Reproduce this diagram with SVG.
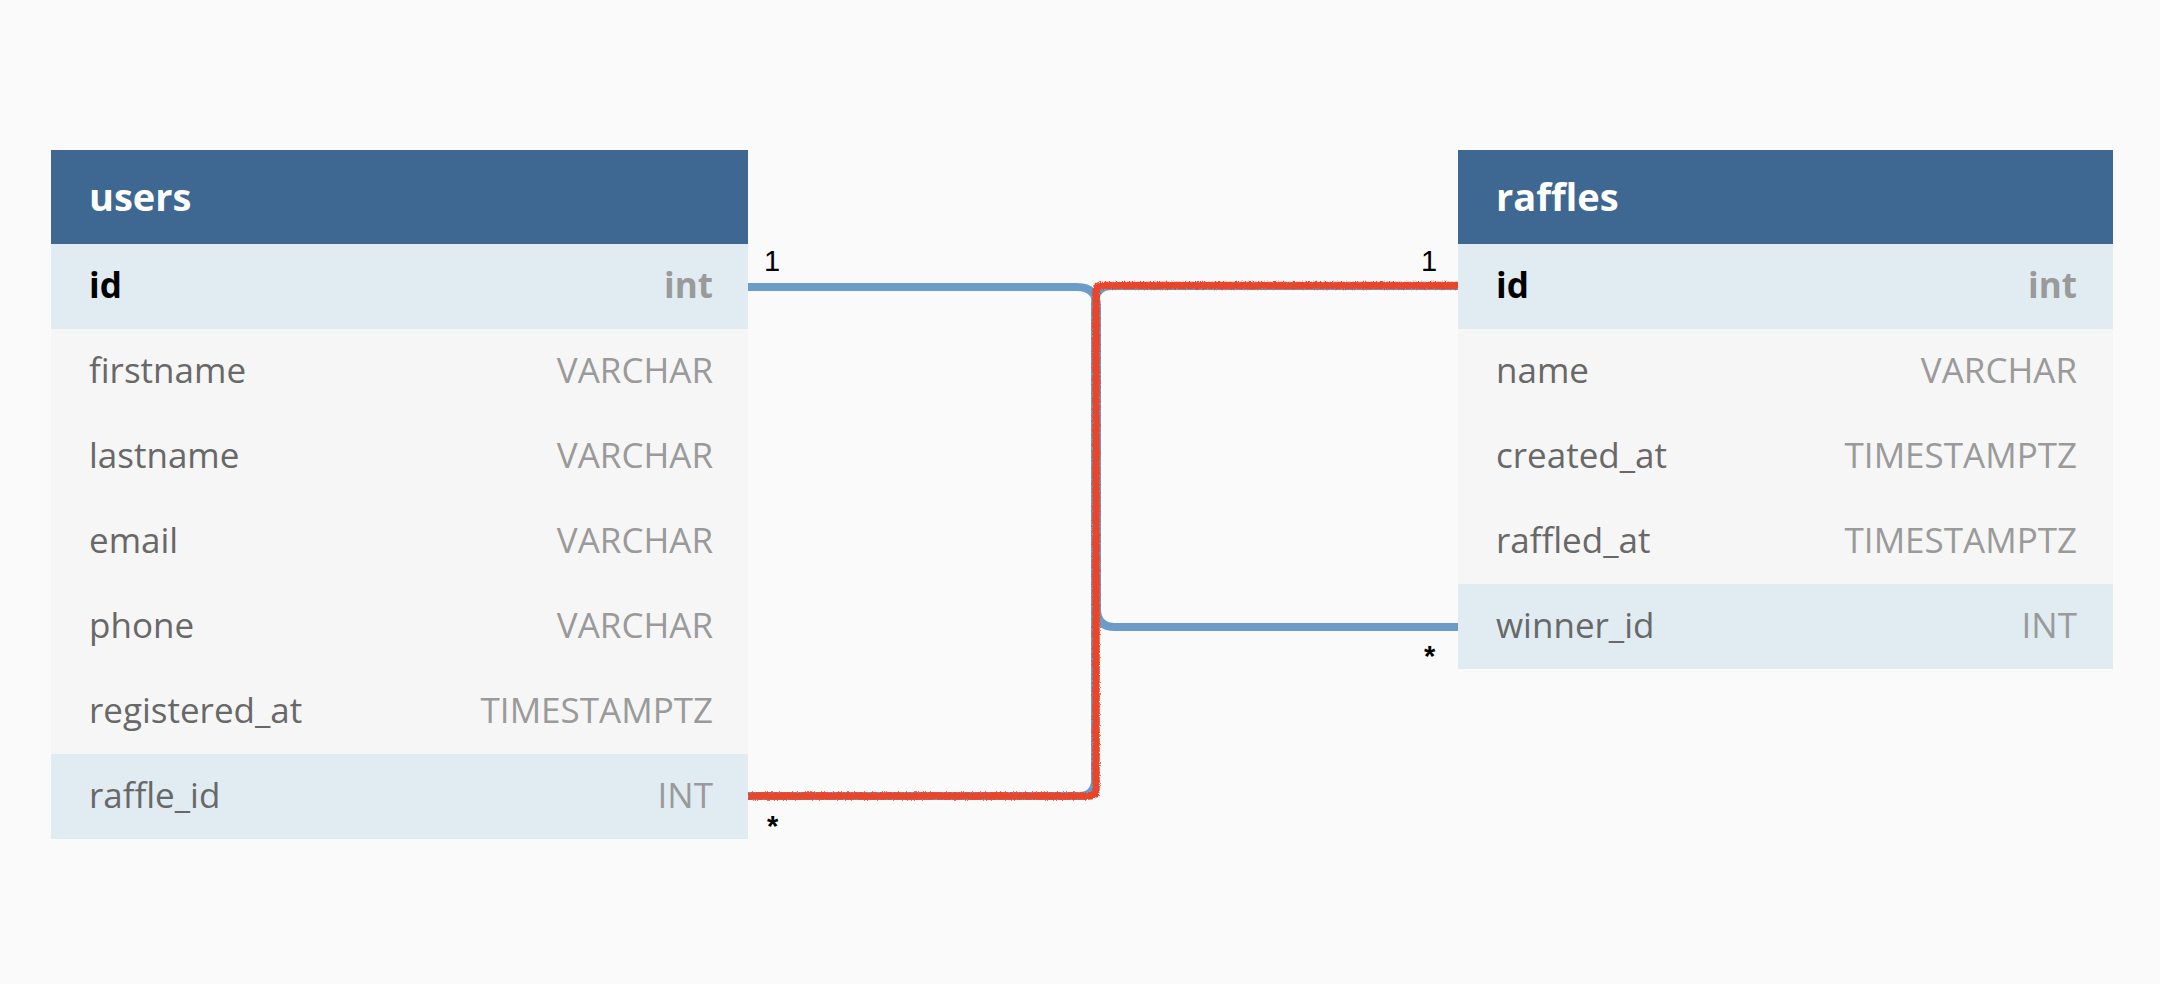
<svg xmlns="http://www.w3.org/2000/svg" width="2160" height="984" viewBox="0 0 2160 984">
  <style>
    .bg { fill: #fafafa; }
    .hdr { fill: #3e6891; }
    .row { fill: #f6f6f6; }
    .rowk { fill: #e1ebf2; }
    .title { font-family: "Open Sans", "Liberation Sans", sans-serif; font-weight: 700; font-size: 38px; fill: #ffffff; }
    .fname { font-family: "Open Sans", "Liberation Sans", sans-serif; font-size: 35px; fill: #686868; }
    .fpk { font-family: "Open Sans", "Liberation Sans", sans-serif; font-size: 35px; font-weight: 700; fill: #000000; }
    .ftype { font-family: "Open Sans", "Liberation Sans", sans-serif; font-size: 35px; fill: #9a9a9a; text-anchor: end; }
    .ftypepk { font-family: "Open Sans", "Liberation Sans", sans-serif; font-size: 35px; font-weight: 700; fill: #9a9a9a; text-anchor: end; }
    .card { font-family: "Liberation Sans", Arial, sans-serif; font-size: 29px; fill: #000000; }
    .star { font-weight: 700; }
    .link { fill: none; stroke: #6b9cc9; stroke-width: 8; }
    .hl { fill: none; stroke: #e8442a; stroke-width: 7.5; stroke-linejoin: round; filter: url(#rough); }
  </style>
  <defs>
    <filter id="rough" x="-5%" y="-5%" width="110%" height="110%">
      <feTurbulence type="fractalNoise" baseFrequency="1.1" numOctaves="2" seed="3" result="n"/>
      <feDisplacementMap in="SourceGraphic" in2="n" scale="4.5" xChannelSelector="R" yChannelSelector="G"/>
    </filter>
  </defs>
  <rect class="bg" x="0" y="0" width="2160" height="984"/>

  <g id="connectors">
    <path id="users-id-to-raffles-winner_id" class="link" d="M748,287 H1077 Q1097,287 1097,307 V609 Q1097,627 1115,627 H1458"/>
    <path id="raffles-id-to-users-raffle_id" class="link" d="M1458,286 H1112 Q1095,286 1095,303 V780 Q1095,796 1079,796 H748"/>
    <path id="raffles-id-to-users-raffle_id-highlight" class="hl" d="M1458,285.5 H1102 Q1096,285.5 1096,292 V789 Q1096,796 1089,796 H748"/>
  </g>

  <g id="users">
    <rect class="hdr" x="51" y="150" width="697" height="94"/>
    <text class="title" x="89" y="211">users</text>
    <rect class="rowk" x="51" y="244" width="697" height="85"/>
    <text class="fpk" x="89" y="298">id</text>
    <text class="ftypepk" x="713" y="298">int</text>
    <rect class="row" x="51" y="329" width="697" height="85"/>
    <text class="fname" x="89" y="383">firstname</text>
    <text class="ftype" x="713" y="383">VARCHAR</text>
    <rect class="row" x="51" y="414" width="697" height="85"/>
    <text class="fname" x="89" y="468">lastname</text>
    <text class="ftype" x="713" y="468">VARCHAR</text>
    <rect class="row" x="51" y="499" width="697" height="85"/>
    <text class="fname" x="89" y="553">email</text>
    <text class="ftype" x="713" y="553">VARCHAR</text>
    <rect class="row" x="51" y="584" width="697" height="85"/>
    <text class="fname" x="89" y="638">phone</text>
    <text class="ftype" x="713" y="638">VARCHAR</text>
    <rect class="row" x="51" y="669" width="697" height="85"/>
    <text class="fname" x="89" y="723">registered_at</text>
    <text class="ftype" x="713" y="723">TIMESTAMPTZ</text>
    <rect class="rowk" x="51" y="754" width="697" height="85"/>
    <text class="fname" x="89" y="808">raffle_id</text>
    <text class="ftype" x="713" y="808">INT</text>
  </g>

  <g id="raffles">
    <rect class="hdr" x="1458" y="150" width="655" height="94"/>
    <text class="title" x="1496" y="211">raffles</text>
    <rect class="rowk" x="1458" y="244" width="655" height="85"/>
    <text class="fpk" x="1496" y="298">id</text>
    <text class="ftypepk" x="2077" y="298">int</text>
    <rect class="row" x="1458" y="329" width="655" height="85"/>
    <text class="fname" x="1496" y="383">name</text>
    <text class="ftype" x="2077" y="383">VARCHAR</text>
    <rect class="row" x="1458" y="414" width="655" height="85"/>
    <text class="fname" x="1496" y="468">created_at</text>
    <text class="ftype" x="2077" y="468">TIMESTAMPTZ</text>
    <rect class="row" x="1458" y="499" width="655" height="85"/>
    <text class="fname" x="1496" y="553">raffled_at</text>
    <text class="ftype" x="2077" y="553">TIMESTAMPTZ</text>
    <rect class="rowk" x="1458" y="584" width="655" height="85"/>
    <text class="fname" x="1496" y="638">winner_id</text>
    <text class="ftype" x="2077" y="638">INT</text>
  </g>

  <g id="cardinality-labels">
    <text class="card" x="764" y="271">1</text>
    <text class="card" x="1421" y="271">1</text>
    <text class="card star" x="1424" y="666">*</text>
    <text class="card star" x="767" y="836">*</text>
  </g>
</svg>
